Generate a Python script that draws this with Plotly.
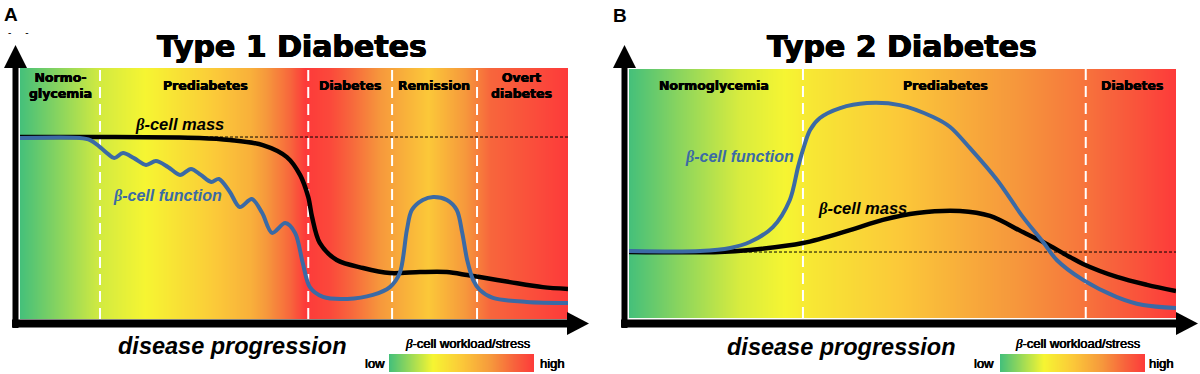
import plotly.graph_objects as go

# ---------------- data ----------------
# Type 1 diabetes panel (x: disease progression 0-100, y: relative level 0-100)
t1_stage_names = ["Normo-<br>glycemia", "Prediabetes", "Diabetes", "Remission", "Overt<br>diabetes"]
t1_stage_centers = [7.3, 33.8, 60.2, 75.5, 91.6]
t1_stage_bounds = [14.6, 52.6, 67.9, 83.4]
t1_baseline = 72.5

t1_mass_x = [0, 14.6, 32.8, 38.3, 44.3, 48.7, 51.1, 52.6, 53.3, 54.7, 57.8, 62.6, 67.5, 73.0, 77.9, 81.6, 83.9, 89.4, 95.4, 100]
t1_mass_y = [72.5, 72.5, 72.1, 71.3, 69.3, 64.5, 57.4, 48.6, 40.6, 30.3, 23.5, 20.3, 18.3, 18.7, 18.7, 17.5, 16.7, 14.7, 12.7, 12.0]

t1_func_x = [0, 10.9, 12.8, 14.6, 16.1, 17.2, 18.8, 20.8, 23.0, 24.8, 27.0, 29.2, 31.2, 33.0, 34.9, 36.3,
             38.3, 40.1, 42.3, 44.2, 46.0, 48.4, 50.2, 51.6, 52.9, 55.3, 59.7, 64.4, 67.5, 69.3, 70.6,
             71.5, 73.5, 75.4, 77.9, 79.7, 80.7, 81.6, 82.7, 83.9, 86.3, 92.5, 100]
t1_func_y = [72.1, 72.1, 71.3, 68.5, 65.7, 64.1, 66.1, 64.1, 61.4, 62.9, 60.6, 57.4, 59.8, 57.4, 54.6, 55.8,
             50.6, 44.6, 47.8, 42.2, 34.3, 38.2, 34.3, 22.3, 12.7, 8.8, 8.0, 9.6, 12.7, 18.3, 35.5,
             43.4, 47.4, 48.6, 47.4, 43.4, 34.3, 23.5, 15.5, 11.6, 8.4, 6.8, 6.4]

t1_work_x = [0, 7.3, 14.6, 22.8, 32.8, 42.0, 49.3, 52.0, 56.6, 60.2, 65.7, 74.5, 81.2, 85.8, 100]
t1_work_z = [0.0, 0.12, 0.24, 0.30, 0.45, 0.60, 0.85, 1.0, 0.95, 0.85, 0.70, 0.50, 0.70, 0.85, 1.0]

# Type 2 diabetes panel
t2_stage_names = ["Normoglycemia", "Prediabetes", "Diabetes"]
t2_stage_centers = [15.5, 57.8, 92.0]
t2_stage_bounds = [31.8, 83.5]
t2_baseline = 26.5

t2_mass_x = [0, 16.6, 22.1, 31.8, 40.4, 46.4, 52.7, 60.5, 66.0, 72.0, 75.7, 80.6, 83.0, 89.2, 94.7, 100]
t2_mass_y = [26.5, 26.5, 27.3, 30.1, 35.3, 39.4, 42.2, 43.0, 41.0, 34.5, 30.5, 24.5, 21.7, 16.5, 13.3, 10.8]

t2_func_x = [0, 13.0, 18.5, 22.1, 26.3, 29.4, 30.9, 31.8, 33.1, 34.9, 38.6, 43.5, 49.5, 55.6, 58.7, 62.3,
             67.3, 72.0, 75.7, 78.2, 83.0, 89.2, 94.0, 100]
t2_func_y = [26.9, 26.9, 28.1, 30.5, 36.5, 47.4, 60.6, 67.5, 75.5, 80.3, 84.3, 86.3, 85.5, 80.7, 76.7, 68.3,
             55.4, 40.6, 30.5, 23.3, 15.3, 8.4, 5.2, 4.0]

t2_work_x = [0, 9.3, 20.3, 28.5, 33.1, 49.5, 67.8, 82.5, 91.6, 100]
t2_work_z = [0.0, 0.12, 0.25, 0.30, 0.36, 0.50, 0.68, 0.80, 0.90, 1.0]

legend_x = [0, 1]
legend_z = [0, 1]

# ---------------- styling ----------------
W, H = 1200, 374
BLUE = "#3b6aa5"
STRESS_SCALE = [[0.0, "#45c07a"], [0.3, "#f6f532"], [0.5, "#fbc839"],
                [0.7, "#f6983c"], [0.85, "#f7663c"], [1.0, "#fd3a3a"]]
BOLD = "DejaVu Sans"
SANS = "Liberation Sans, Arial"


def P(px, py):
    return px / W, 1 - py / H


fig = go.Figure()


def add_panel(xa, ya, work_x, work_z, bounds, base, mass_x, mass_y, func_x, func_y):
    fig.add_trace(go.Heatmap(x=work_x, y=[0, 100], z=[work_z, work_z], zmin=0, zmax=1,
                             colorscale=STRESS_SCALE, zsmooth="best", showscale=False,
                             hoverinfo="skip", xaxis=xa, yaxis=ya))
    for b in bounds:
        fig.add_trace(go.Scatter(x=[b, b], y=[0, 100], mode="lines",
                                 line=dict(color="white", width=2, dash="11px,6px"),
                                 hoverinfo="skip", showlegend=False, xaxis=xa, yaxis=ya))
    fig.add_trace(go.Scatter(x=[0, 100], y=[base, base], mode="lines",
                             line=dict(color="black", width=1, dash="3px,2px"),
                             hoverinfo="skip", showlegend=False, xaxis=xa, yaxis=ya))
    fig.add_trace(go.Scatter(x=mass_x, y=mass_y, mode="lines",
                             line=dict(color="black", width=4.5, shape="spline", smoothing=0.9),
                             hoverinfo="skip", showlegend=False, xaxis=xa, yaxis=ya))
    fig.add_trace(go.Scatter(x=func_x, y=func_y, mode="lines",
                             line=dict(color=BLUE, width=4, shape="spline", smoothing=0.9),
                             hoverinfo="skip", showlegend=False, xaxis=xa, yaxis=ya))


add_panel("x", "y", t1_work_x, t1_work_z, t1_stage_bounds, t1_baseline,
          t1_mass_x, t1_mass_y, t1_func_x, t1_func_y)
add_panel("x2", "y2", t2_work_x, t2_work_z, t2_stage_bounds, t2_baseline,
          t2_mass_x, t2_mass_y, t2_func_x, t2_func_y)

# legend colour bars
for xa, ya in (("x3", "y3"), ("x4", "y4")):
    fig.add_trace(go.Heatmap(x=legend_x, y=[0, 1], z=[legend_z, legend_z], zmin=0, zmax=1,
                             colorscale=STRESS_SCALE, zsmooth="best", showscale=False,
                             hoverinfo="skip", xaxis=xa, yaxis=ya))

hidden = dict(visible=False, fixedrange=True, showgrid=False, zeroline=False)
fig.update_layout(
    width=W, height=H, margin=dict(l=0, r=0, t=0, b=0),
    paper_bgcolor="white", plot_bgcolor="white", showlegend=False,
    xaxis=dict(domain=[20 / W, 568 / W], range=[0, 100], anchor="y", **hidden),
    yaxis=dict(domain=[1 - 319 / H, 1 - 68 / H], range=[0, 100], anchor="x", **hidden),
    xaxis2=dict(domain=[629 / W, 1176 / W], range=[0, 100], anchor="y2", **hidden),
    yaxis2=dict(domain=[1 - 318 / H, 1 - 69 / H], range=[0, 100], anchor="x2", **hidden),
    xaxis3=dict(domain=[389 / W, 534 / W], range=[0, 1], anchor="y3", **hidden),
    yaxis3=dict(domain=[1 - 372 / H, 1 - 354 / H], range=[0, 1], anchor="x3", **hidden),
    xaxis4=dict(domain=[1000 / W, 1145 / W], range=[0, 1], anchor="y4", **hidden),
    yaxis4=dict(domain=[1 - 372 / H, 1 - 354 / H], range=[0, 1], anchor="x4", **hidden),
)

# ---------------- axis arrows ----------------
shapes = []


def vline(px, py0, py1, w):
    x0, y0 = P(px, py0)
    x1, y1 = P(px, py1)
    shapes.append(dict(type="line", xref="paper", yref="paper", x0=x0, y0=y0, x1=x1, y1=y1,
                       line=dict(color="black", width=w)))


def hline(py, px0, px1, w):
    x0, y0 = P(px0, py)
    x1, y1 = P(px1, py)
    shapes.append(dict(type="line", xref="paper", yref="paper", x0=x0, y0=y0, x1=x1, y1=y1,
                       line=dict(color="black", width=w)))


def tri(pts):
    path = "M " + " L ".join("%f,%f" % P(a, b) for a, b in pts) + " Z"
    shapes.append(dict(type="path", xref="paper", yref="paper", path=path,
                       fillcolor="black", line=dict(color="black", width=0)))


for ox in (0, 609):
    vline(15.5 + ox, 328, 66, 6)
    tri([(4 + ox, 68), (27 + ox, 68), (15.5 + ox, 45)])
    hline(323.5, 12 + ox, 570 + ox, 8)
    tri([(567 + ox, 312), (567 + ox, 335), (589 + ox, 323.5)])

fig.update_layout(shapes=shapes)

# ---------------- text ----------------
ann = []
HEAVY = "0.6px 0 0 #000, -0.6px 0 0 #000, 0 0.4px 0 #000"
SEMI = "0.35px 0 0 #000, -0.35px 0 0 #000"


def text(px, py, s, size, family=SANS, color="black", shadow=None):
    x, y = P(px, py)
    font = dict(size=size, family=family, color=color)
    if shadow:
        font["shadow"] = shadow
    ann.append(dict(x=x, y=y, xref="paper", yref="paper", text=s, showarrow=False,
                    xanchor="center", yanchor="middle", font=font))


beta = '<span style="font-family:Liberation Serif">β</span>'

text(11, 14, "<b>A</b>", 19)
text(620, 15, "<b>B</b>", 19)
text(18, 32, "-     -", 10)
text(292, 46, "<b>Type 1 Diabetes</b>", 30, BOLD, shadow=HEAVY)
text(902, 46, "<b>Type 2 Diabetes</b>", 30, BOLD, shadow=HEAVY)

# stage labels (anchored to data x)
for name, cx in zip(t1_stage_names, t1_stage_centers):
    ann.append(dict(x=cx, y=1 - (85 - 68) / 251, xref="x", yref="y domain", text="<b>%s</b>" % name,
                    showarrow=False, xanchor="center", yanchor="middle",
                    font=dict(size=12.5, family=BOLD, color="black", shadow=SEMI)))
for name, cx in zip(t2_stage_names, t2_stage_centers):
    ann.append(dict(x=cx, y=1 - (85 - 69) / 249, xref="x2", yref="y2 domain", text="<b>%s</b>" % name,
                    showarrow=False, xanchor="center", yanchor="middle",
                    font=dict(size=12.5, family=BOLD, color="black", shadow=SEMI)))

# curve labels
text(179, 124, "<b><i>%s-cell mass</i></b>" % beta, 16.5)
text(167, 196, "<b><i>%s-cell function</i></b>" % beta, 16, color=BLUE)
text(739, 157, "<b><i>%s-cell function</i></b>" % beta, 16, color=BLUE)
text(862, 208, "<b><i>%s-cell mass</i></b>" % beta, 16.5)

# axis titles
text(232, 346, "<b><i>disease progression</i></b>", 23.5)
text(841, 347, "<b><i>disease progression</i></b>", 23.5)

# legends
for ox, tx in ((0, 468), (609, 1078)):
    text(tx, 343, "<i>%s</i>-cell workload/stress" % beta, 13, shadow=SEMI)
    text(375 + ox, 363, "low", 13, shadow=SEMI)
    text(552 + ox, 363, "high", 13, shadow=SEMI)

fig.update_layout(annotations=ann)

fig.write_html("out.html", config={"displayModeBar": False, "staticPlot": True},
               post_script="document.body.style.margin='0';")
